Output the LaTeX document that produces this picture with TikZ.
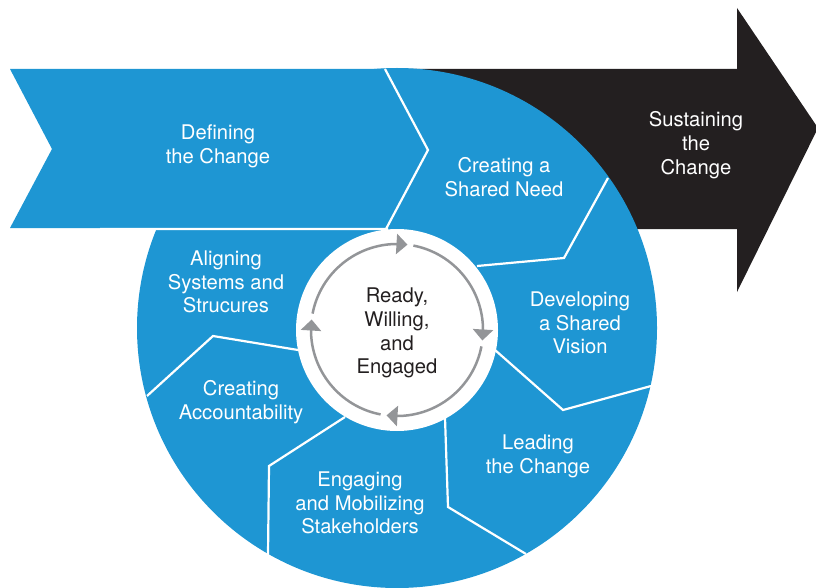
\documentclass[tikz,border=0pt]{standalone}
\usepackage{fontspec}
\setmainfont{TeX Gyre Heros}
\usetikzlibrary{arrows.meta,bending}
\definecolor{stepblue}{RGB}{30,150,211}
\definecolor{arrowblack}{RGB}{35,31,32}
\definecolor{ringgray}{RGB}{147,149,152}

\begin{document}
\begin{tikzpicture}[x=1pt,y=-1pt,
        phase/.style={align=center, text=white, inner sep=0pt,
            font=\fontsize{20.2}{23.7}\selectfont},
        divider/.style={draw=white, line width=2.2pt, line join=miter},
        ringarrow/.style={draw=ringgray, line width=2.5pt, -{Triangle[length=11pt,width=20pt]}}]
    \useasboundingbox (0,0) rectangle (816,588);

    \node (centre) [coordinate] at (397,328) {};
    \node (hub) [coordinate] at (397,330) {};

    \fill [arrowblack] (400,69) -- (737,69) -- (737,8) -- (818,128) -- (737,292) -- (737,229) -- (400,229) -- cycle;
    \fill [stepblue] (10,69) -- (392,69) -- (428,150) -- (392,228) -- (10,228) -- (52,149) -- cycle;
    \fill [stepblue] (centre) circle [radius=260];
    \fill [white] (hub) circle [radius=101];

    \path [divider]
        (385,69) -- (428,150) -- (386,229)
        (100,229) -- (388,229)
        (608,178) -- (564,258) -- (477,266)
        (495,350) -- (563,410) -- (651,386)
        (445,418) -- (448,507) -- (526,554)
        (345,417) -- (269,466) -- (268,555)
        (298,350) -- (213,336) -- (147,396)
    ;

    \foreach \s/\e in {-169/-83, -79/7, 11/97, 101/187}
        \draw [ringarrow] ([shift={(\s:86)}]hub) arc (\s:\e:86);

    \node (defining) [phase] at (218,146) {Defining\\the Change};
    \node (sustaining) [phase] at (696,145) {Sustaining\\the\\Change};
    \node (need) [phase] at (504,177) {Creating a\\Shared Need};
    \node (vision) [phase] at (580,323) {Developing\\a Shared\\Vision};
    \node (leading) [phase] at (538,456) {Leading\\the Change};
    \node (engaging) [phase] at (360,503) {Engaging\\and Mobilizing\\Stakeholders};
    \node (accountability) [phase] at (241,402) {Creating\\Accountability};
    \node (aligning) [phase] at (226,282) {Aligning\\Systems and\\Strucures};
    \node (ready) [phase, text=arrowblack] at (397,333) {Ready,\\Willing,\\and\\Engaged};
\end{tikzpicture}
\end{document}
